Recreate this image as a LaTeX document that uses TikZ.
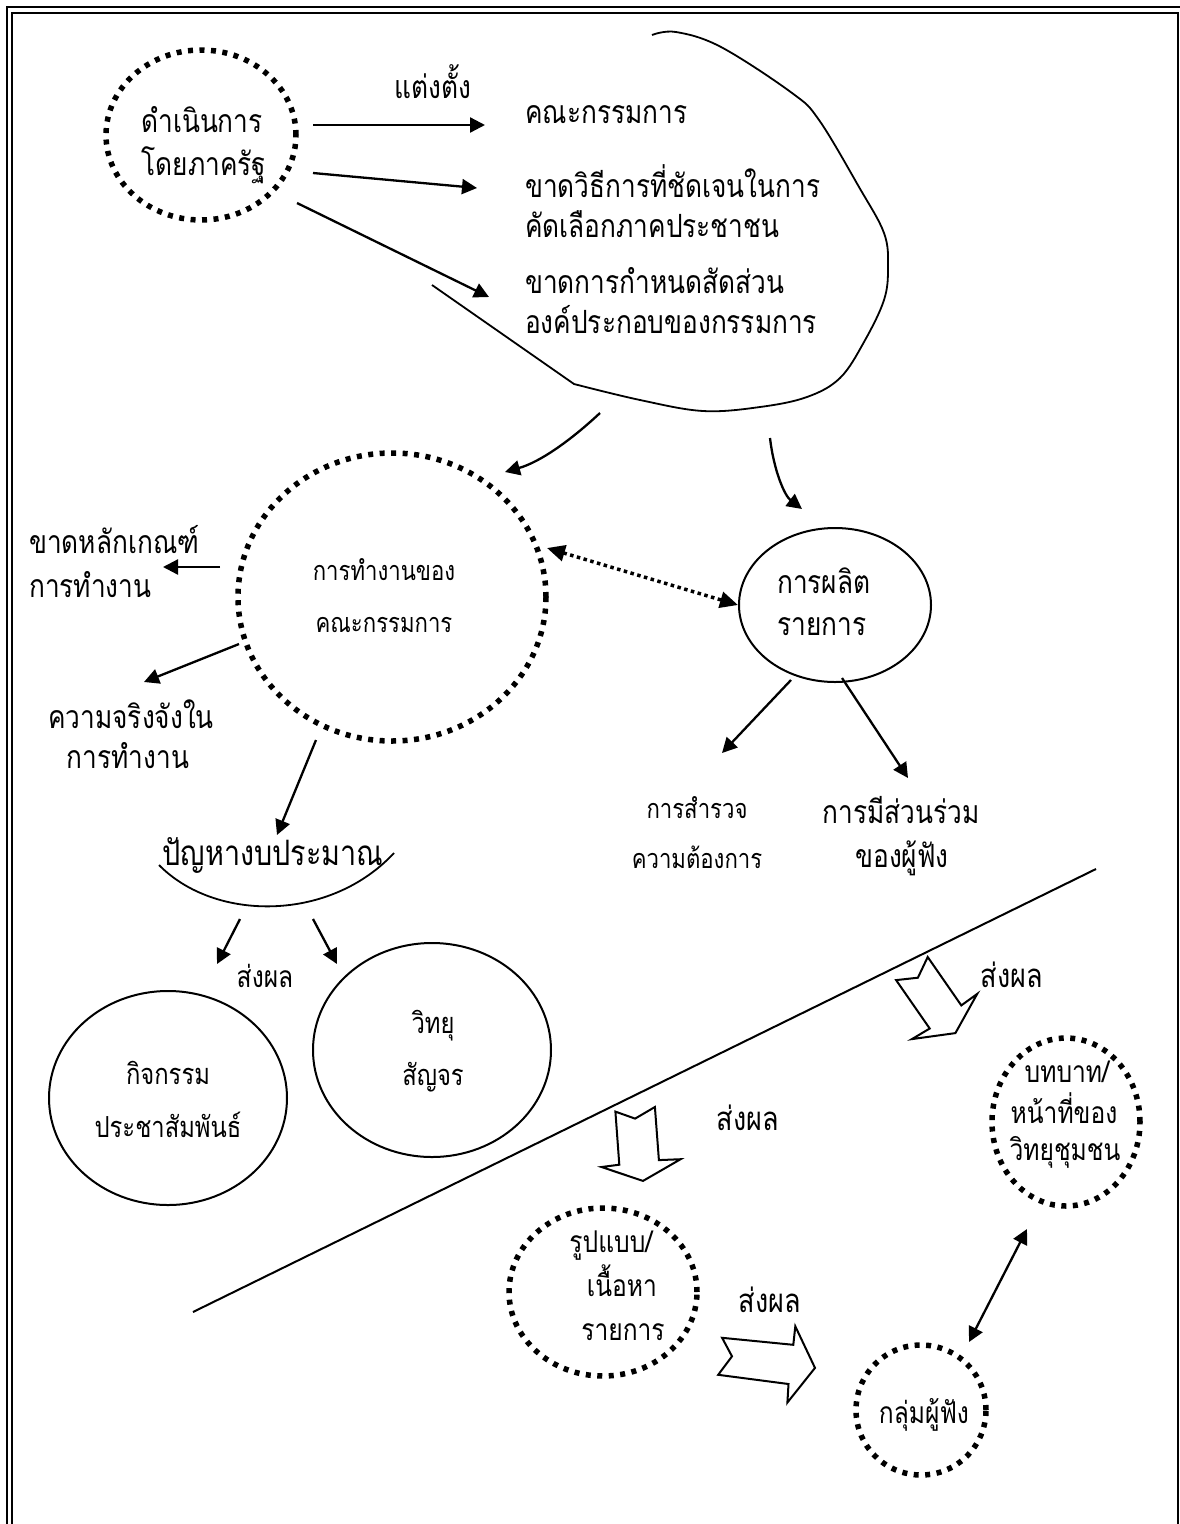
\documentclass[tikz,border=0pt]{standalone}
\usepackage{fontspec}
\newfontfamily\thaifont[Script=Thai,FakeStretch=0.82]{Loma}
\usetikzlibrary{arrows.meta,shapes.geometric}

\begin{document}
\begin{tikzpicture}[x=1pt,y=-1pt,
  frame/.style={line width=2pt},
  dotring/.style={draw,ellipse,line width=5.5pt,dash pattern=on 5pt off 6.5pt,inner sep=0pt},
  ring/.style={draw,ellipse,line width=2pt,inner sep=0pt},
  txt/.style={font=\thaifont\fontsize{32}{38}\selectfont,inner sep=0pt},
  txtm/.style={font=\thaifont\fontsize{30}{36}\selectfont,inner sep=0pt},
  txtr/.style={font=\thaifont\fontsize{29}{35}\selectfont,inner sep=0pt},
  txts/.style={font=\thaifont\fontsize{27}{32}\selectfont,inner sep=0pt},
  txtl/.style={font=\thaifont\fontsize{35}{42}\selectfont,inner sep=0pt},
  txte/.style={font=\thaifont\fontsize{33}{40}\selectfont,inner sep=0pt},
  link/.style={line width=2.3pt,-{Triangle[length=15pt,width=15pt]}},
  duallink/.style={line width=2.3pt,{Triangle[length=15pt,width=15pt]}-{Triangle[length=15pt,width=15pt]}},
  dotlink/.style={line width=3.5pt,dash pattern=on 3.5pt off 3.5pt,
    {Triangle[length=18pt,width=16pt]}-{Triangle[length=18pt,width=16pt]}},
  blob/.style={line width=1.8pt},
  fatarrow/.style={line width=2pt,fill=white,line join=miter},
]
\useasboundingbox (0,0) rectangle (1180,1524);

% double frame
\draw[frame] (6.5,1530) -- (6.5,7) -- (1186,7);
\draw[frame] (11.5,1530) -- (11.5,13) -- (1177.5,13) -- (1177.5,1530);

% ---------- top: state operation ----------
\node[dotring,minimum width=190pt,minimum height=170pt] (gov) at (201,135) {};
\node[txt,anchor=base] (govA) at (202,132) {ดำเนินการ};
\node[txt,anchor=base] (govB) at (204,175) {โดยภาครัฐ};

\node[txt,anchor=base] (appoint) at (433,98) {แต่งตั้ง};
\node[txt,anchor=base west] (comm) at (525,123) {คณะกรรมการ};
\node[txt,anchor=base west] (lackA1) at (525,197) {ขาดวิธีการที่ชัดเจนในการ};
\node[txt,anchor=base west] (lackA2) at (525,237) {คัดเลือกภาคประชาชน};
\node[txt,anchor=base west] (lackB1) at (525,293) {ขาดการกำหนดสัดส่วน};
\node[txt,anchor=base west] (lackB2) at (525,333) {องค์ประกอบของกรรมการ};

\coordinate (a1s) at (313,125); \coordinate (a1e) at (485,125);
\coordinate (a2s) at (313,173); \coordinate (a2e) at (477,188);
\coordinate (a3s) at (297,203); \coordinate (a3e) at (489,297);
\draw[link] (a1s) -- (a1e);
\draw[link] (a2s) -- (a2e);
\draw[link] (a3s) -- (a3e);

% outline around the committee issues
\draw[blob] (432,285) -- plot[smooth,tension=0.6] coordinates {(574,384) (640,400) (703,411)
  (760,407) (807,397) (840,378) (864,342) (884,300) (888,267) (884,233) (859,187)
  (819,120) (792,93) (721,47) (676,32) (652,35)};

% ---------- middle ----------
\node[dotring,minimum width=308pt,minimum height=288pt] (work) at (392,597) {};
\node[txts,anchor=base] (workA) at (384,580) {การทำงานของ};
\node[txts,anchor=base] (workB) at (384,632) {คณะกรรมการ};

\node[ring,minimum width=192pt,minimum height=154pt] (prod) at (835,605) {};
\node[txt,anchor=base west] (prodA) at (777,593) {การผลิต};
\node[txt,anchor=base west] (prodB) at (777,635) {รายการ};

\coordinate (b1s) at (600,413); \coordinate (b1e) at (505,472);
\coordinate (b2s) at (770,438); \coordinate (b2e) at (802,509);
\draw[link] (b1s) .. controls (570,441) and (540,462) .. (b1e);
\draw[link] (b2s) .. controls (774,472) and (785,496) .. (b2e);

\coordinate (d1) at (547,548); \coordinate (d2) at (738,605);
\draw[dotlink] (d1) -- (d2);

\node[txt,anchor=base west] (critA) at (29,553) {ขาดหลักเกณฑ์};
\node[txt,anchor=base west] (critB) at (29,597) {การทำงาน};
\node[txt,anchor=base] (serA) at (131,728) {ความจริงจังใน};
\node[txt,anchor=base] (serB) at (128,768) {การทำงาน};

\coordinate (c1s) at (220,567); \coordinate (c1e) at (163,567);
\coordinate (c2s) at (239,644); \coordinate (c2e) at (144,682);
\coordinate (c3s) at (316,740); \coordinate (c3e) at (277,835);
\draw[link] (c1s) -- (c1e);
\draw[link] (c2s) -- (c2e);
\draw[link] (c3s) -- (c3e);

\node[txts,anchor=base] (survA) at (697,818) {การสำรวจ};
\node[txts,anchor=base] (survB) at (697,868) {ความต้องการ};
\node[txt,anchor=base] (partA) at (901,823) {การมีส่วนร่วม};
\node[txt,anchor=base] (partB) at (902,867) {ของผู้ฟัง};
\coordinate (e1s) at (791,680); \coordinate (e1e) at (722,753);
\coordinate (e2s) at (842,678); \coordinate (e2e) at (908,778);
\draw[link] (e1s) -- (e1e);
\draw[link] (e2s) -- (e2e);

% ---------- budget ----------
\node[txtl,anchor=base] (budget) at (273,865) {ปัญหางบประมาณ};
\draw[blob] (159,865) .. controls (215,922) and (330,922) .. (394,853);
\coordinate (f1s) at (240,919); \coordinate (f1e) at (217,964);
\coordinate (f2s) at (313,919); \coordinate (f2e) at (337,964);
\draw[link] (f1s) -- (f1e);
\draw[link] (f2s) -- (f2e);
\node[txtm,anchor=base] (eff1) at (265,987) {ส่งผล};

\node[ring,minimum width=238pt,minimum height=214pt] (pr) at (168,1098) {};
\node[txtr,anchor=base] (prA) at (168,1084) {กิจกรรม};
\node[txtr,anchor=base] (prB) at (168,1137) {ประชาสัมพันธ์};
\node[ring,minimum width=238pt,minimum height=214pt] (radio) at (432,1050) {};
\node[txtr,anchor=base] (radioA) at (433,1033) {วิทยุ};
\node[txtr,anchor=base] (radioB) at (433,1085) {สัญจร};

% ---------- dividing line and lower part ----------
\coordinate (divA) at (193,1312); \coordinate (divB) at (1096,869);
\draw[line width=2pt] (divA) -- (divB);

\draw[fatarrow] (927.7,957.0) -- (961.3,1005.4) -- (977.2,993.9) -- (955.4,1033.1)
  -- (911.9,1039.1) -- (929.7,1028.5) -- (896.1,980.1) -- (917.9,977.7) -- cycle;
\node[txte,anchor=base] (eff2) at (1012,987) {ส่งผล};

\node[dotring,minimum width=148pt,minimum height=168pt] (role) at (1066,1122) {};
\node[txtm,anchor=base] (roleA) at (1067,1082) {บทบาท/};
\node[txtm,anchor=base] (roleB) at (1064,1123) {หน้าที่ของ};
\node[txtm,anchor=base] (roleC) at (1065,1160) {วิทยุชุมชน};

\draw[fatarrow] (615.4,1111.6) -- (635.1,1118.6) -- (654.9,1107.0) -- (658.9,1160.1)
  -- (680.6,1159.2) -- (643.0,1180.9) -- (601.5,1167.0) -- (619.3,1164.7) -- cycle;
\node[txte,anchor=base] (eff3) at (748,1130) {ส่งผล};

\node[dotring,minimum width=188pt,minimum height=168pt] (form) at (603,1292) {};
\node[txtm,anchor=base] (formA) at (611,1252) {รูปแบบ/};
\node[txtm,anchor=base] (formB) at (622,1296) {เนื้อหา};
\node[txtm,anchor=base] (formC) at (623,1340) {รายการ};

\draw[fatarrow] (722.1,1337.8) -- (793.3,1344.8) -- (795.3,1326.3) -- (815.0,1367.9)
  -- (787.4,1402.5) -- (788.5,1384.0) -- (718.2,1374.8) -- (732.0,1356.3) -- cycle;
\node[txte,anchor=base] (eff4) at (770,1312) {ส่งผล};

\node[dotring,minimum width=130pt,minimum height=130pt] (aud) at (921,1410) {};
\node[txtm,anchor=base] (audT) at (924,1423) {กลุ่มผู้ฟัง};

\coordinate (g1) at (969,1342); \coordinate (g2) at (1027,1229);
\draw[duallink] (g1) -- (g2);
\end{tikzpicture}
\end{document}
